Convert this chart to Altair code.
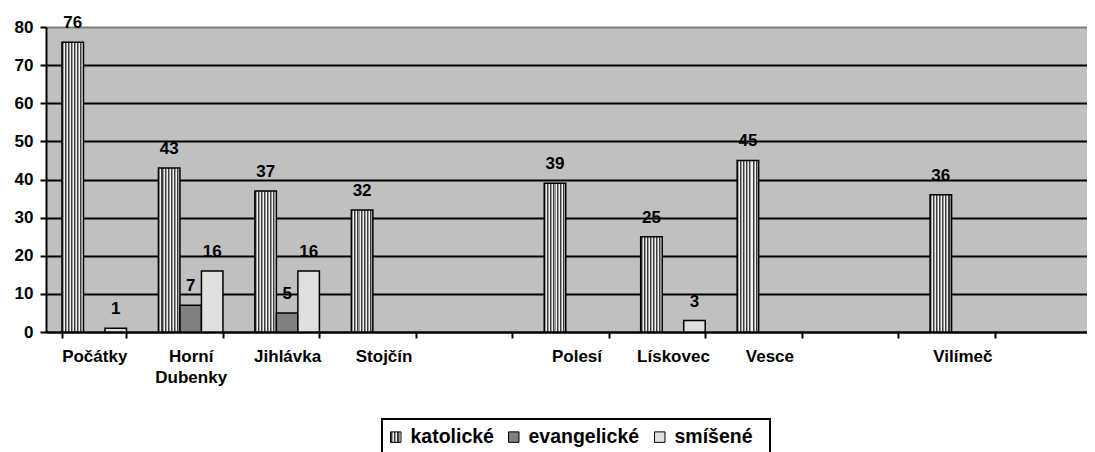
import altair as alt
import pandas as pd

# ---- data ----
categories = ["Počátky", "Horní Dubenky", "Jihlávka", "Stojčín", " ",
              "Polesí", "Lískovec", "Vesce", "  ", "Vilímeč", "   "]
katolicke = [76, 43, 37, 32, 0, 39, 25, 45, 0, 36, 0]
evangelicke = [0, 7, 5, 0, 0, 0, 0, 0, 0, 0, 0]
smisene = [1, 16, 16, 0, 0, 0, 3, 0, 0, 0, 0]
series = ["katolické", "evangelické", "smíšené"]

rows = []
for name, vals in zip(series, [katolicke, evangelicke, smisene]):
    for c, v in zip(categories, vals):
        rows.append({"kategorie": c, "serie": name, "hodnota": v})
df = pd.DataFrame(rows)

FONT = "Liberation Sans"
STRIPE_COLORS = ["#3c3c3c", "#9a9a9a", "#f0f0f0"]


def stripe_stops(colors, repeats):
    stops = []
    n = len(colors)
    for i in range(repeats):
        for j, col in enumerate(colors):
            a = round((i + j / n) / repeats, 4)
            b = round((i + (j + 1) / n) / repeats, 4)
            stops.append({"offset": a, "color": col})
            stops.append({"offset": b, "color": col})
    return stops


def stripes(colors, repeats):
    return {"gradient": "linear", "x1": 0, "y1": 0, "x2": 1, "y2": 0,
            "stops": stripe_stops(colors, repeats)}


def stripes_expr(colors, repeats):
    st = ", ".join("{offset: %s, color: '%s'}" % (s["offset"], s["color"])
                   for s in stripe_stops(colors, repeats))
    return {"expr": "{gradient: 'linear', x1: 0, y1: 0, x2: 1, y2: 0, stops: [%s]}" % st}


fills = {
    "katolické": stripes(STRIPE_COLORS, 7),
    "evangelické": "#808080",
    "smíšené": "#e0e0e0",
}
legend_range = [stripes_expr(STRIPE_COLORS, 3), "#808080", "#e0e0e0"]

x_enc = alt.X(
    "kategorie:N",
    sort=categories,
    scale=alt.Scale(domain=categories, range=[0, 1061],
                    paddingInner=0.331, paddingOuter=0.1655),
    axis=alt.Axis(
        title=None, labelAngle=0, labelFont=FONT, labelFontWeight="bold",
        labelFontSize=17, labelColor="black", labelPadding=10,
        labelExpr="split(datum.label, ' ')", labelLineHeight=21,
        tickBand="extent", tickSize=6, tickWidth=2, tickColor="black",
        domainColor="black", domainWidth=2, grid=False,
        labelOverlap=False, labelBound=False, labelLimit=0,
    ),
)
y_enc = alt.Y(
    "hodnota:Q",
    scale=alt.Scale(domain=[0, 80], nice=False),
    axis=alt.Axis(
        title=None, values=list(range(0, 90, 10)), labelFont=FONT,
        labelFontWeight="bold", labelFontSize=17, labelColor="black",
        labelPadding=7, tickSize=6, tickWidth=2, tickColor="black",
        domainColor="black", domainWidth=2, gridWidth=2,
        gridColor={"condition": {"test": "datum.value === 80", "value": "#808080"},
                   "value": "black"},
    ),
)
xoff = alt.XOffset("serie:N", scale=alt.Scale(domain=series, paddingInner=0, paddingOuter=0))

base = alt.Chart(df)

layers = []
for s in series:
    layers.append(
        base.transform_filter(f"datum.serie === '{s}' && datum.hodnota > 0")
        .mark_bar(fill=fills[s], stroke="black", strokeWidth=1.5)
        .encode(x=x_enc, y=y_enc, xOffset=xoff)
    )

labels = (
    base.transform_filter("datum.hodnota > 0")
    .mark_text(font=FONT, fontWeight="bold", fontSize=17, color="black",
               dy=-14, baseline="alphabetic", align="center")
    .encode(x=x_enc, y=y_enc, xOffset=xoff, text="hodnota:Q")
)

legend_layer = (
    base.transform_filter("false")
    .mark_bar()
    .encode(
        x=x_enc, y=y_enc, xOffset=xoff,
        color=alt.Color(
            "serie:N",
            scale=alt.Scale(domain=series, range=legend_range),
            legend=alt.Legend(
                title="\u00a0", titleOrient="right", titlePadding=9,
                titleFontSize=12,
                orient="none", legendX=336, legendY=392,
                direction="horizontal", labelFont=FONT, labelFontWeight="bold",
                labelFontSize=19.5, labelColor="black", labelOffset=5,
                columnPadding=12, symbolSize=110, symbolType="square",
                symbolOffset=-4,
                symbolStrokeColor="black", symbolStrokeWidth=1,
                symbolOpacity=1, strokeColor="black", padding=8,
            ),
        ),
    )
)

chart = (
    alt.layer(*layers, labels, legend_layer)
    .properties(
        width=1041, height=305,
        autosize=alt.AutoSizeParams(type="none"),
        padding={"left": 38, "top": 19, "right": 0, "bottom": 120},
        background="white",
    )
    .configure_view(fill="#c0c0c0", stroke="transparent", strokeWidth=0)
    .configure_legend(strokeWidth=2)
)

chart.save("out.html", embed_options={"renderer": "svg", "actions": False})
